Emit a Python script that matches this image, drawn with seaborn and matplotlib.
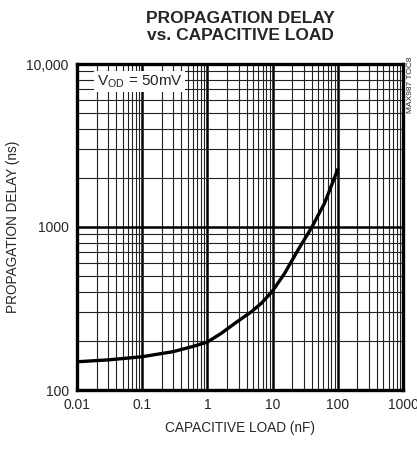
import numpy as np
import pandas as pd
import matplotlib
matplotlib.use("Agg")
import matplotlib.pyplot as plt
from matplotlib.ticker import LogLocator, FixedLocator, FixedFormatter, NullFormatter
import seaborn as sns

# data
cap_nf = [0.01, 0.03, 0.1, 0.3, 0.6, 1, 1.64, 2.62, 4.72, 6.7, 9.8, 15.3, 24.5, 39.1, 62.5, 100]
delay_ns = [149, 153, 160, 172, 185, 197, 223, 256, 302, 340, 401, 520, 722, 982, 1397, 2260]

x_ticks = [0.01, 0.1, 1, 10, 100, 1000]
x_labels = ["0.01", "0.1", "1", "10", "100", "1000"]
y_ticks = [100, 1000, 10000]
y_labels = ["100", "1000", "10,000"]

sns.set_style("white")
plt.rcParams['font.family'] = ['Liberation Sans Narrow', 'Liberation Sans', 'DejaVu Sans']

df = pd.DataFrame({'cap': cap_nf, 'delay': delay_ns})

fig = plt.figure(figsize=(4.17, 4.51), dpi=100)
ax = fig.add_axes([77/417, 1 - 390/451, 326/417, 326/451])

ax.set_xscale('log')
ax.set_yscale('log')
ax.set_xlim(0.01, 1000)
ax.set_ylim(100, 10000)

# grid
ax.xaxis.set_minor_locator(LogLocator(base=10, subs=np.arange(2, 10)))
ax.yaxis.set_minor_locator(LogLocator(base=10, subs=np.arange(2, 10)))
ax.xaxis.set_minor_formatter(NullFormatter())
ax.yaxis.set_minor_formatter(NullFormatter())
ax.grid(which='major', color='black', linewidth=1.8)
ax.grid(which='minor', color='#222222', linewidth=0.8)
ax.set_axisbelow(True)

sns.lineplot(data=df, x='cap', y='delay', ax=ax, color='black', linewidth=2.4)

ax.xaxis.set_major_locator(FixedLocator(x_ticks))
ax.xaxis.set_major_formatter(FixedFormatter(x_labels))
ax.yaxis.set_major_locator(FixedLocator(y_ticks))
ax.yaxis.set_major_formatter(FixedFormatter(y_labels))
ax.tick_params(which='both', length=0, labelsize=10, pad=6)

for s in ax.spines.values():
    s.set_visible(True)
    s.set_color('black')
    s.set_linewidth(2.4)

ax.set_xlabel('CAPACITIVE LOAD (nF)', fontsize=9.8, labelpad=6)
ax.set_ylabel('PROPAGATION DELAY (ns)', fontsize=9.8)
ax.yaxis.set_label_coords(-57/326, 0.5)

fig.text(240/417, 1 - 27/451, 'PROPAGATION DELAY\nvs. CAPACITIVE LOAD', ha='center', va='center',
         fontsize=12.5, fontweight='bold', linespacing=1.15)

ax.text(0.06, 0.945, r'V$_{\mathregular{OD}}$ = 50mV', transform=ax.transAxes, fontsize=11,
        va='center', ha='left',
        bbox=dict(facecolor='white', edgecolor='none', pad=1.5))

fig.text(410/417, 1 - 85/451, 'MAX987 TOC8', rotation=90, ha='center', va='center', fontsize=6)

fig.savefig('out.png', dpi=100)
